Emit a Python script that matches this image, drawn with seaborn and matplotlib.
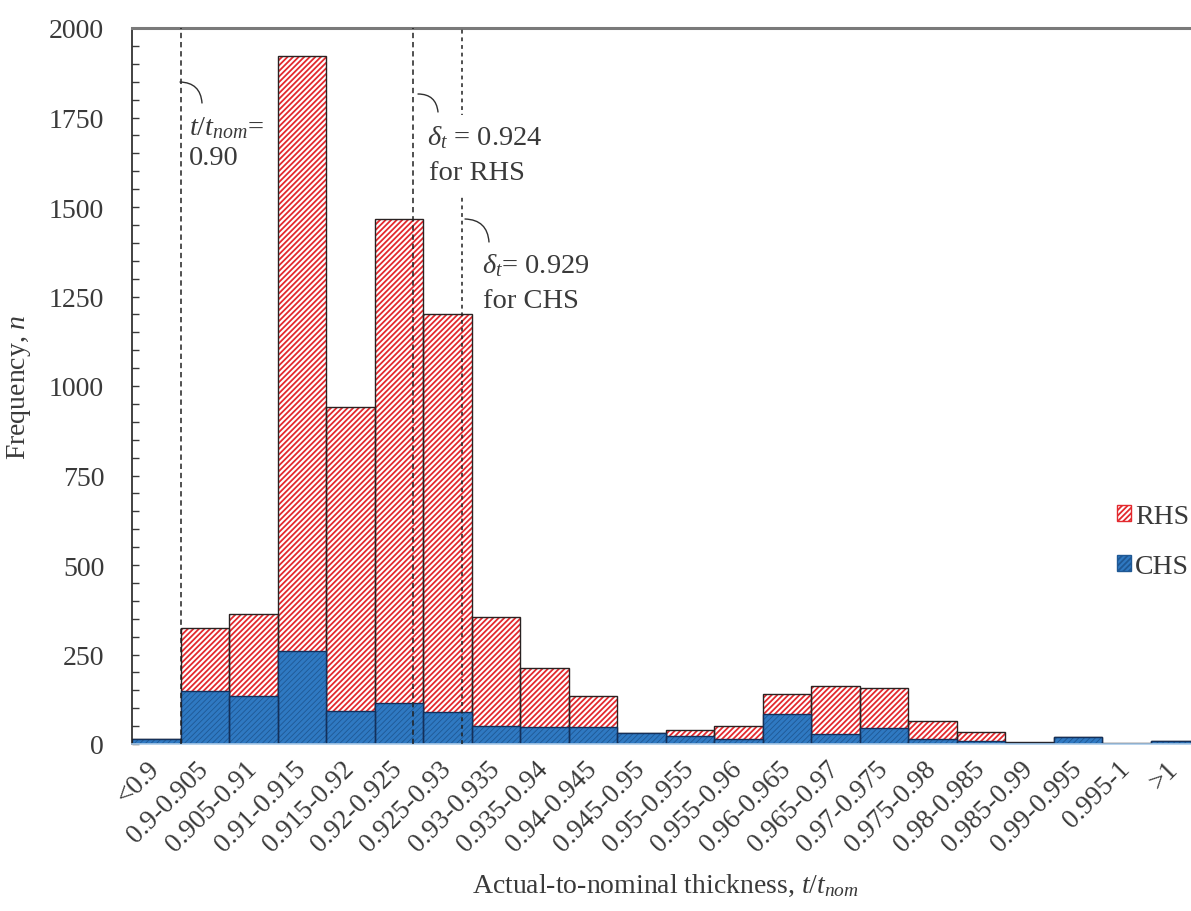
import matplotlib
matplotlib.use("Agg")
import matplotlib.pyplot as plt
from matplotlib.patches import Patch
from matplotlib.ticker import MultipleLocator
import pandas as pd
import seaborn as sns

# Thickness-ratio bins and counts per section type
bins = ["<0.9", "0.9-0.905", "0.905-0.91", "0.91-0.915", "0.915-0.92",
        "0.92-0.925", "0.925-0.93", "0.93-0.935", "0.935-0.94", "0.94-0.945",
        "0.945-0.95", "0.95-0.955", "0.955-0.96", "0.96-0.965", "0.965-0.97",
        "0.97-0.975", "0.975-0.98", "0.98-0.985", "0.985-0.99", "0.99-0.995",
        "0.995-1", ">1"]
chs_counts = [15, 148, 134, 260, 92, 115, 89, 50, 47, 47, 30, 22, 14, 84,
              28, 45, 14, 8, 2, 20, 0, 8]
rhs_counts = [0, 176, 229, 1662, 849, 1351, 1112, 305, 165, 87, 0, 17, 36, 56,
              134, 111, 50, 26, 3, 0, 2, 0]

# Reference ratios drawn as dashed lines
limit_ratio = 0.90
delta_rhs = 0.924
delta_chs = 0.929

sns.set_theme(style="white")
plt.rcParams["font.family"] = ["Liberation Serif", "DejaVu Serif"]
plt.rcParams["mathtext.fontset"] = "custom"
plt.rcParams["mathtext.rm"] = "Liberation Serif"
plt.rcParams["mathtext.it"] = "Liberation Serif:italic"
plt.rcParams["mathtext.bf"] = "Liberation Serif:bold"
plt.rcParams["hatch.linewidth"] = 1.3

TXT = "#3a3a3a"
RED = "#e3292e"
BLUE = "#2f79c2"
BLUE_H = "#1f5894"
EDGE = "#2a2222"
NAVY = "#14305a"
HATCH = "//////"

df = pd.DataFrame({"bin": bins, "CHS": chs_counts, "RHS": rhs_counts})
df["total"] = df["CHS"] + df["RHS"]

W, H = 1191, 912
fig = plt.figure(figsize=(W / 100, H / 100), dpi=100)
ax = fig.add_axes([132 / W, 1 - 745 / H, 1067 / W, 716 / H])


def bars(col, hatch_lw=None, **kw):
    n0 = len(ax.patches)
    ctx = {"hatch.linewidth": hatch_lw} if hatch_lw else {}
    with plt.rc_context(ctx):
        sns.barplot(data=df, x="bin", y=col, order=bins, width=1.0,
                    saturation=1, errorbar=None, ax=ax, **kw)
    new = ax.patches[n0:]
    if hatch_lw:
        for p in new:
            try:
                p.set_hatch_linewidth(hatch_lw)
            except AttributeError:
                pass
    return new


# RHS stacked on CHS: draw totals hatched red, then CHS over the lower part
bars("total", hatch_lw=1.3, color="white", edgecolor=RED, linewidth=0, hatch=HATCH)
bars("total", color=EDGE, fill=False, linewidth=1.0)
bars("CHS", hatch_lw=0.6, color=BLUE, edgecolor=BLUE_H, linewidth=0, hatch=HATCH)
bars("CHS", color=NAVY, fill=False, linewidth=1.0)


def ratio_pos(r):
    # bin "0.9-0.905" is centred at 1, each bin spans 0.005
    return 0.5 + (r - 0.9) / 0.005


for r, ls in [(limit_ratio, (0, (3.5, 2.5))), (delta_rhs, (0, (3.5, 2.5))),
              (delta_chs, (0, (2.5, 2.5)))]:
    ax.axvline(ratio_pos(r), color="#202020", lw=1.1, ls=ls, zorder=3)

ax.set_xlim(-0.5, len(bins) - 0.5)
ax.set_ylim(0, 2000)
ax.set_yticks(range(0, 2001, 250))
ax.yaxis.set_minor_locator(MultipleLocator(50))
ax.tick_params(axis="y", which="both", direction="in", length=5, width=1,
               color=TXT, left=True, labelsize=20, labelcolor=TXT, pad=20)
ax.tick_params(axis="x", length=0, labelsize=19.5, labelcolor=TXT, pad=15)
for lab in ax.get_xticklabels():
    lab.set_rotation(45)
    lab.set_ha("right")
    lab.set_va("center")
    lab.set_rotation_mode("anchor")

ax.set_xlabel(r"Actual-to-nominal thickness, $t/t_{nom}$", fontsize=20, color=TXT)
ax.xaxis.set_label_coords(0.5, -0.178)
ax.set_ylabel(r"Frequency, $n$", fontsize=20, color=TXT)
ax.yaxis.set_label_coords(-0.093, 0.5)

ax.spines["left"].set_color("#222222")
ax.spines["left"].set_linewidth(1.2)
ax.spines["top"].set_color("#7a7a7a")
ax.spines["top"].set_linewidth(2.2)
ax.spines["bottom"].set_color("#a9cbea")
ax.spines["bottom"].set_linewidth(1.2)
ax.spines["right"].set_visible(False)


def fp(x, y):
    return (x, H - y)


tk = dict(xycoords="figure pixels", fontsize=20.5, color=TXT, ha="left",
          va="baseline", zorder=6)
box = dict(boxstyle="square,pad=0.3", fc="white", ec="none")

ax.annotate(r"$t/t_{nom}$=", fp(189, 135), **tk)
ax.annotate("0.90", fp(189, 165), **tk)
ax.annotate(r"$\delta_t$ = 0.924", fp(427, 145), bbox=box, **tk)
ax.annotate("for RHS", fp(429, 180), bbox=box, **tk)
ax.annotate(r"$\delta_t$= 0.929", fp(482, 273), **tk)
ax.annotate("for CHS", fp(483, 308), **tk)

arc = dict(arrowstyle="-", connectionstyle="arc3,rad=-0.45", lw=1.0,
           color="#303030", shrinkA=0, shrinkB=0)
for a, b in [((180, 83), (202, 104)), ((418, 95), (438, 113)),
             ((465, 220), (489, 243))]:
    ax.annotate("", xy=fp(*b), xytext=fp(*a), xycoords="figure pixels",
                textcoords="figure pixels", arrowprops=arc, zorder=6)

handles = [Patch(facecolor="white", edgecolor=RED, hatch=HATCH, label="RHS"),
           Patch(facecolor=BLUE, edgecolor=BLUE_H, hatch=HATCH, label="CHS")]
ax.legend(handles=handles, loc="upper left",
          bbox_to_anchor=(1117 / W, 1 - 505 / H), bbox_transform=fig.transFigure,
          frameon=False, fontsize=20, handlelength=0.5, handleheight=0.5,
          handletextpad=0.15, labelspacing=0.9, borderpad=0, borderaxespad=0,
          labelcolor=TXT)

fig.savefig("out.png", dpi=100, facecolor="white")
